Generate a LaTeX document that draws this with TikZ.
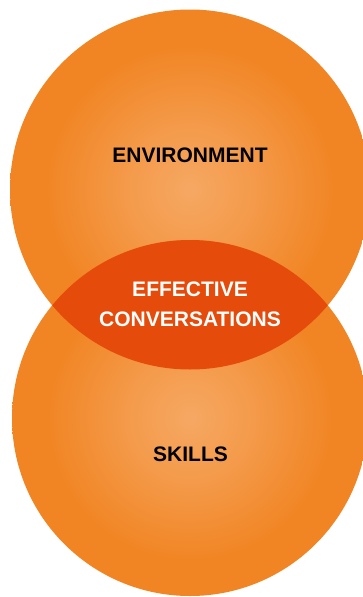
\documentclass[tikz,border=0pt]{standalone}
\usepackage{fontspec}
\setmainfont{Liberation Sans}
\usetikzlibrary{positioning}

\definecolor{zoneLight}{HTML}{F6A863}
\definecolor{zoneMid}{HTML}{F49A4A}
\definecolor{zoneDeep}{HTML}{F18524}
\definecolor{overlapRed}{HTML}{E54B0A}

% soft glow from the centre of each circle
\pgfdeclareradialshading{zoneglow}{\pgfpointorigin}{color(0bp)=(zoneLight); color(9bp)=(zoneMid); color(20bp)=(zoneDeep); color(50bp)=(zoneDeep)}

\tikzstyle{zone} = [shading=zoneglow]
\tikzstyle{overlap} = [fill=overlapRed]
\tikzstyle{zone_label} = [font=\fontsize{21}{30}\selectfont\bfseries, text=black, align=center, inner sep=0pt]
\tikzstyle{overlap_label} = [zone_label, text=white]

\begin{document}
\begin{tikzpicture}[x=1pt, y=-1pt]

	\useasboundingbox (0,0) rectangle (363,597);

	\coordinate (env_centre) at (190,189.5);
	\coordinate (skills_centre) at (190,418);

	% The two circles
	\shade[zone] (env_centre) circle (180);
	\shade[zone] (skills_centre) circle (178);

	% Where they overlap
	\begin{scope}
		\clip (env_centre) circle (180);
		\fill[overlap] (skills_centre) circle (178);
	\end{scope}

	% Labels
	\node (environment) [zone_label] at (190,155) {ENVIRONMENT};
	\node (conversations) [overlap_label] at (190,304.5) {EFFECTIVE\\CONVERSATIONS};
	\node (skills) [zone_label] at (190.5,454) {SKILLS};

\end{tikzpicture}
\end{document}
